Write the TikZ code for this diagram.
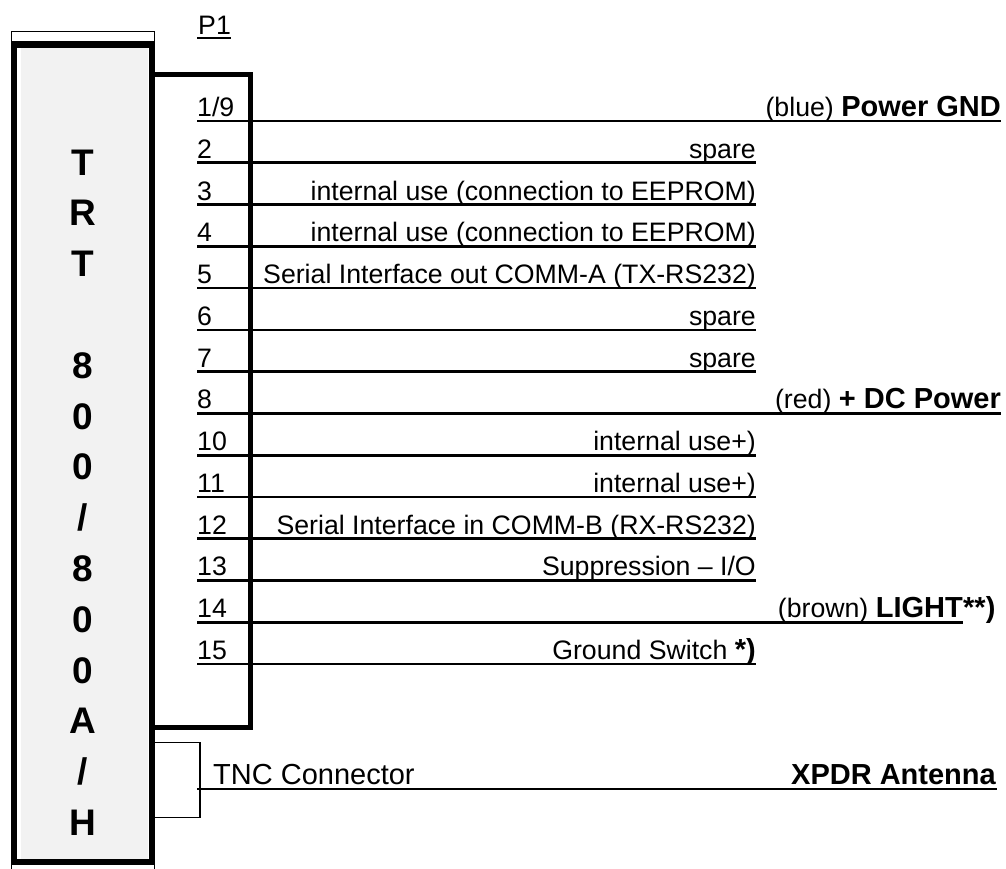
\documentclass[tikz,border=0pt]{standalone}
\usepackage{fontspec}
\setmainfont{Liberation Sans}
\definecolor{boxgray}{HTML}{F2F2F2}
\newcommand\Bx[1]{{\fontsize{29}{32}\selectfont\bfseries #1}}
\tikzset{
  reg/.style={font=\fontsize{26.7}{30}\selectfont, inner sep=0pt},
  bld/.style={font=\fontsize{29}{32}\selectfont\bfseries, inner sep=0pt},
  big/.style={font=\fontsize{37}{40}\selectfont\bfseries, inner sep=0pt, anchor=base},
  wire/.style={line width=2.7pt},
  thickb/.style={line width=6pt},
  midb/.style={line width=5.5pt},
  thinb/.style={line width=1.3pt},
}
\newcommand\pinrow[4]{%
  \pgfmathsetmacro\yl{121+41.77*#1}%
  \node[reg,anchor=base west] (n#1) at (197,\yl-4.5) {#2};
  \node[reg,anchor=base east] (d#1) at (#4,\yl-4.5) {#3};
  \coordinate (a#1) at (197,\yl);
  \coordinate (b#1) at (#4,\yl);
  \draw[wire] (a#1) -- (b#1);
}
\begin{document}
\begin{tikzpicture}[x=1pt,y=-1pt]
\useasboundingbox (0,0) rectangle (1006,868);
\begin{scope}
\clip (0,0) rectangle (1006,868);
% device box
\fill[boxgray] (20.5,48) rectangle (147.5,859);
\draw[thinb] (11.5,31.5) rectangle (154.5,42);
\draw[thinb] (11.5,864) rectangle (154.5,885);
\draw[thickb] (13.5,45) rectangle (152,862);
\end{scope}
% device letters
\foreach \c [count=\k from 0] in {T,R,T,{},8,0,0,/,8,0,0,A,/,H}{
  \node[big] (L\k) at (83,175+50.8*\k) {\c};
}
% P1 connector box
\draw[midb] (152,74.5) -- (250.5,74.5) -- (250.5,727.5) -- (152,727.5);
\node[reg,anchor=base west] (p1) at (198,34) {P1};
\coordinate (p1a) at (197,38);
\coordinate (p1b) at (231,38);
\draw[line width=2.5pt] (p1a) -- (p1b);
% pin rows
\pinrow{0}{1/9}{(blue) \Bx{Power GND}}{1001}
\pinrow{1}{2}{spare}{756}
\pinrow{2}{3}{internal use (connection to EEPROM)}{756}
\pinrow{3}{4}{internal use (connection to EEPROM)}{756}
\pinrow{4}{5}{Serial Interface out COMM-A (TX-RS232)}{756}
\pinrow{5}{6}{spare}{756}
\pinrow{6}{7}{spare}{756}
\pinrow{7}{8}{(red) \Bx{+ DC Power}}{1001}
\pinrow{8}{10}{internal use+)}{756}
\pinrow{9}{11}{internal use+)}{756}
\pinrow{10}{12}{Serial Interface in COMM-B (RX-RS232)}{756}
\pinrow{11}{13}{Suppression – I/O}{756}
\pinrow{12}{14}{(brown) \Bx{LIGHT}}{963}
\pinrow{13}{15}{Ground Switch \Bx{*)}}{756}
\node[bld,anchor=base west] (star14) at (d12.base east) {**)};
% TNC connector
\draw[thinb] (152,742.5) -- (200,742.5) -- (200,817.5) -- (152,817.5);
\node[font=\fontsize{29}{32}\selectfont,inner sep=0pt,anchor=base west] (tnc) at (213,784) {TNC Connector};
\node[bld,anchor=base east] (xpdr) at (996,784) {XPDR Antenna};
\coordinate (ta) at (197,789);
\coordinate (tb) at (997,789);
\draw[wire] (ta) -- (tb);
\end{tikzpicture}
\end{document}
